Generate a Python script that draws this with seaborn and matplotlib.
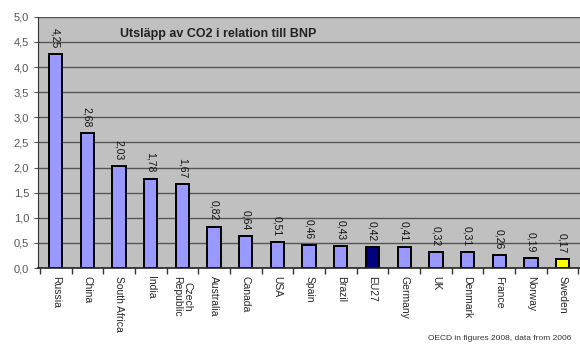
import matplotlib.pyplot as plt
import seaborn as sns
import pandas as pd
from matplotlib.ticker import FixedLocator, FuncFormatter

countries = ["Russia", "China", "South Africa", "India", "Czech\nRepublic", "Australia",
             "Canada", "USA", "Spain", "Brazil", "EU27", "Germany", "UK", "Denmark",
             "France", "Norway", "Sweden"]
values = [4.25, 2.68, 2.03, 1.78, 1.67, 0.82, 0.64, 0.51, 0.46, 0.43, 0.42, 0.41,
          0.32, 0.31, 0.26, 0.19, 0.17]
colors = ["#9999ff"] * 10 + ["#000080"] + ["#9999ff"] * 5 + ["#ffff00"]

df = pd.DataFrame({"country": countries, "value": values})

sns.set_style("white")
plt.rcParams['font.family'] = ['Liberation Sans', 'DejaVu Sans']

fig = plt.figure(figsize=(5.8, 3.49), dpi=100)
ax = fig.add_axes([0.066, 0.232, 0.934, 0.72])
sns.barplot(data=df, x="country", y="value", hue="country", palette=colors,
            saturation=1, legend=False, width=0.42, edgecolor="black",
            linewidth=1.4, ax=ax)

ax.set_facecolor("#c0c0c0")
ax.set_ylim(0, 5)
ax.set_xlim(-0.55, len(countries) - 0.45)
ax.set_yticks([i * 0.5 for i in range(11)])
ax.yaxis.set_major_formatter(FuncFormatter(lambda v, p: f"{v:.1f}".replace(".", ",")))
ax.grid(axis="y", color="#555555", linewidth=1.0)
ax.set_axisbelow(True)
for s in ["top", "right"]:
    ax.spines[s].set_visible(False)
ax.spines["left"].set_color("#333333")
ax.spines["bottom"].set_color("#222222")
ax.spines["bottom"].set_linewidth(1.2)
ax.set_xlabel("")
ax.set_ylabel("")
ax.tick_params(axis="y", labelsize=8, colors="#555555", length=3, left=True)
ax.set_xticks(range(len(countries)))
ax.set_xticklabels(countries, rotation=270, fontsize=7.5, va="top", ha="center",
                   linespacing=0.95)
ax.tick_params(axis="x", length=0, pad=6)
ax.xaxis.set_minor_locator(FixedLocator([i + 0.5 for i in range(-1, len(countries))]))
ax.tick_params(axis="x", which="minor", length=4, width=1, bottom=True, color="#333333")

for i, v in enumerate(values):
    ax.text(i, v + 0.12, f"{v:.2f}".replace(".", ","), rotation=270, ha="center",
            va="bottom", fontsize=7.5, color="#111111")

ax.text(0.15, 0.955, "Utsläpp av CO2 i relation till BNP", transform=ax.transAxes,
        fontsize=9, fontweight="bold", color="#222222", va="top")
fig.text(0.985, 0.02, "OECD in figures 2008, data from 2006", ha="right",
         va="bottom", fontsize=6, color="#333333")

fig.savefig("out.png", dpi=100)
